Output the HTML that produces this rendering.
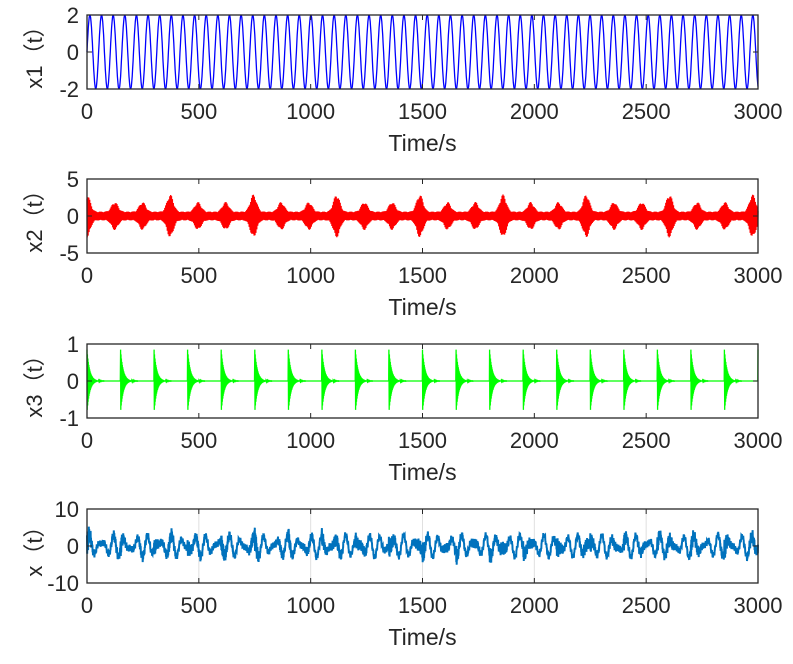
<!DOCTYPE html>
<html><head><meta charset="utf-8"><style>
html,body{margin:0;padding:0;background:#fff;}
svg{display:block;font-family:"Liberation Sans","Noto Sans CJK SC",sans-serif;}
</style></head><body>
<svg id="c" width="793" height="664"></svg>
<script>
// data
const xTicks=[0,500,1000,1500,2000,2500,3000];
const panelNames=["x1（t）","x2（t）","x3（t）","x（t）"];
const yTicksList=[[-2,0,2],[-5,0,5],[-1,0,1],[-10,0,10]];
const colors=["#0000ff","#ff0000","#00ff00","#0072bd"];
const x1Amp=[2]; const x1Period=[52];
const x2BurstAmp=[2.9,1.9,1.9]; const x2BurstPeriod=[124]; const x2Base=[0.6];
const x3Amp=[0.85]; const x3ImpulsePeriod=[150]; const x3Decay=[12];
const tops=[15,179,344,509]; const H=74; const L=87, R=758;
const ns="http://www.w3.org/2000/svg";
const svg=document.getElementById('c');
function mk(t,a,p){const e=document.createElementNS(ns,t);for(const k in a)e.setAttribute(k,a[k]);(p||svg).appendChild(e);return e;}
function sx(t){return L+(t/3000)*(R-L);}
function s1(t){return x1Amp[0]*Math.sin(2*Math.PI*t/x1Period[0]);}
function s2(t){const P=x2BurstPeriod[0];const k=Math.round(t/P);const d=(t-k*P)/P;
 const a=x2BurstAmp[((k%3)+3)%3];
 const env=x2Base[0]+(a-x2Base[0])*Math.exp(-Math.pow(d/0.16,2));
 return env*(t%2<1?1:-1)*(0.8+0.2*Math.sin(t*1.7));}
function s3(t){const d=t%x3ImpulsePeriod[0];return x3Amp[0]*Math.exp(-d/x3Decay[0])*(t%2<1?1:-1);}
function s4(t){return 0.9*s1(t)+0.5*s2(t)+2*s3(t)+1.2*Math.sin(2*Math.PI*t/37)+0.6*Math.sin(t*0.9);}
const fns=[s1,s2,s3,s4];
for(let p=0;p<4;p++){
 const top=tops[p],bot=top+H,yt=yTicksList[p];
 const ymin=yt[0],ymax=yt[2];
 const sy=v=>bot-(v-ymin)/(ymax-ymin)*H;
 const g=mk('g',{});
 
 
 mk('rect',{x:L,y:top,width:R-L,height:H,fill:'#fff'},g);
 if(p===3){for(const t of xTicks){const gl=mk('line',{x1:sx(t),x2:sx(t),y1:top,y2:bot,stroke:'#e0e0e0','stroke-width':1},g);}}
 let pts=[];const step=p===0?2:1;
 for(let t=0;t<=3000;t+=step){let v=fns[p](t);v=Math.max(ymin,Math.min(ymax,v));pts.push(sx(t).toFixed(1)+','+sy(v).toFixed(1));}
 const ln=mk('polyline',{points:pts.join(' '),fill:'none',stroke:colors[p],'stroke-width':p===3?2:1.3},g);
 
 const bx=mk('rect',{x:L,y:top,width:R-L,height:H,fill:'none',stroke:'#262626','stroke-width':1.3},g);
 
 for(const t of xTicks){
  mk('line',{x1:sx(t),x2:sx(t),y1:bot,y2:bot-5,stroke:'#262626'},g);
  mk('line',{x1:sx(t),x2:sx(t),y1:top,y2:top+5,stroke:'#262626'},g);
  const tx=mk('text',{x:sx(t),y:bot+30,'font-size':22,'text-anchor':'middle',fill:'#262626'},g);tx.textContent=t;
  
 }
 for(const v of yt){
  mk('line',{x1:L,x2:L+5,y1:sy(v),y2:sy(v),stroke:'#262626'},g);
  mk('line',{x1:R,x2:R-5,y1:sy(v),y2:sy(v),stroke:'#262626'},g);
  const ty=mk('text',{x:L-8,y:sy(v)+8,'font-size':22,'text-anchor':'end',fill:'#262626'},g);ty.textContent=v;
  
 }
 const xl=mk('text',{x:(L+R)/2,y:bot+62,'font-size':23,'text-anchor':'middle',fill:'#262626'},g);xl.textContent='Time/s';
 
 const yl=mk('text',{x:0,y:0,'font-size':22,'text-anchor':'middle',fill:'#262626',transform:`translate(42,${top+H/2}) rotate(-90)`},g);yl.textContent=panelNames[p];
 
}
</script>
</body></html>
